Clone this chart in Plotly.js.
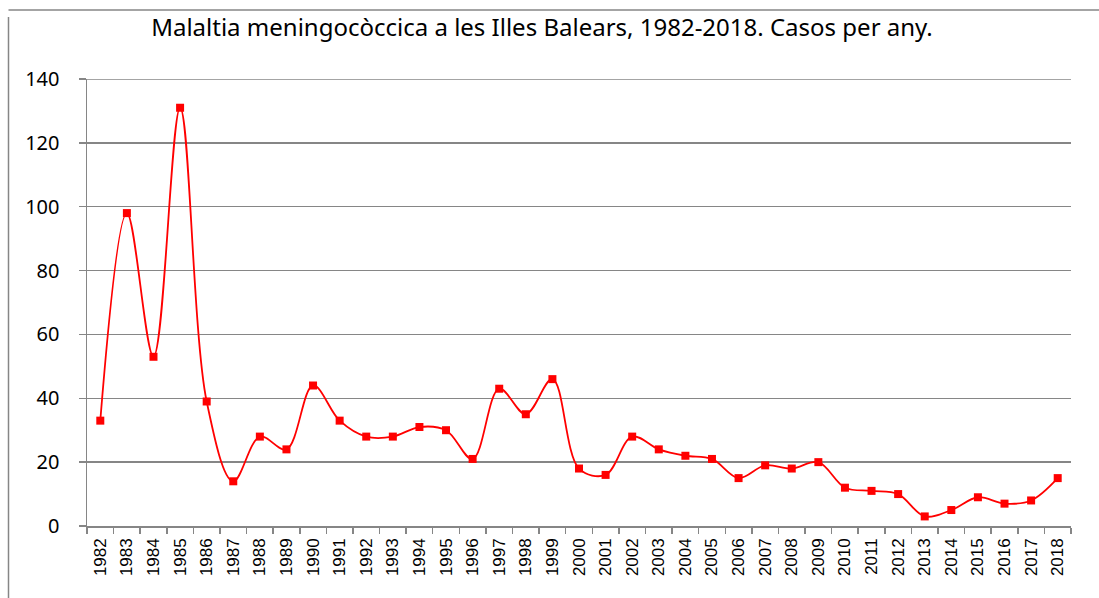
<!DOCTYPE html>
<html>
<head>
<meta charset="utf-8">
<script src="https://cdn.plot.ly/plotly-3.0.1.min.js"></script>
<style>html,body{margin:0;padding:0;background:#fff;}#chart{width:1099px;height:598px;}</style>
</head>
<body>
<div id="chart"></div>
<script>
const years = ["1982","1983","1984","1985","1986","1987","1988","1989","1990","1991","1992","1993","1994","1995","1996","1997","1998","1999","2000","2001","2002","2003","2004","2005","2006","2007","2008","2009","2010","2011","2012","2013","2014","2015","2016","2017","2018"];
const cases = [33,98,53,131,39,14,28,24,44,33,28,28,31,30,21,43,35,46,18,16,28,24,22,21,15,19,18,20,12,11,10,3,5,9,7,8,15];
const titleText = "Malaltia meningocòccica a les Illes Balears, 1982-2018. Casos per any.";

const trace = {
  x: years, y: cases, type: 'scatter', mode: 'lines+markers',
  line: {color: '#ff0000', width: 1.8, shape: 'spline', smoothing: 1},
  marker: {symbol: 'square', size: 8, color: '#ff0000'},
  hoverinfo: 'x+y'
};

const layout = {
  width: 1099, height: 598,
  margin: {l: 87, r: 28, t: 79, b: 72},
  paper_bgcolor: '#ffffff', plot_bgcolor: '#ffffff',
  showlegend: false,
  title: {text: titleText, font: {family: 'Noto Sans, Open Sans, sans-serif', size: 24, color: '#000'},
          xref: 'paper', x: (542-87)/984, xanchor: 'center', yref: 'container', y: 1-28/598, yanchor: 'middle'},
  xaxis: {
    type: 'category', range: [-0.5, years.length - 0.5], autorange: false,
    showgrid: false, showline: true, linecolor: '#868686', linewidth: 1.5,
    ticks: 'outside', tickson: 'boundaries', ticklen: 6, tickcolor: '#868686', tickwidth: 1.5,
    ticklabelstandoff: 4,
    tickangle: -90, tickfont: {family: 'Liberation Sans, Arial, sans-serif', size: 17, color: '#000'},
    zeroline: false, fixedrange: true
  },
  yaxis: {
    range: [0, 140], autorange: false, dtick: 20, tick0: 0, showgrid: true, gridcolor: '#868686', gridwidth: 1.5,
    showline: true, linecolor: '#868686', linewidth: 1.5,
    ticks: 'outside', ticklen: 7, tickcolor: '#868686', tickwidth: 1.5, ticklabelstandoff: 15,
    tickfont: {family: 'Noto Sans, Open Sans, sans-serif', size: 20, color: '#000'},
    zeroline: false, fixedrange: true
  },
  shapes: [
    {type: 'line', xref: 'paper', yref: 'y', x0: 0, x1: 1, y0: 140, y1: 140, line: {color: '#868686', width: 1.5}, layer: 'below'},
    {type: 'line', xref: 'paper', yref: 'paper', x0: (8.5-87)/984, x1: (8.5-87)/984, y0: (519-10)/447, y1: (519-610)/447, line: {color: '#868686', width: 1.5}},
    {type: 'line', xref: 'paper', yref: 'paper', x0: (8.5-87)/984, x1: (1110-87)/984, y0: (526-10)/447, y1: (526-10)/447, line: {color: '#868686', width: 1.5}}
  ]
};

Plotly.newPlot('chart', [trace], layout, {displayModeBar: false, staticPlot: true});
</script>
</body>
</html>
